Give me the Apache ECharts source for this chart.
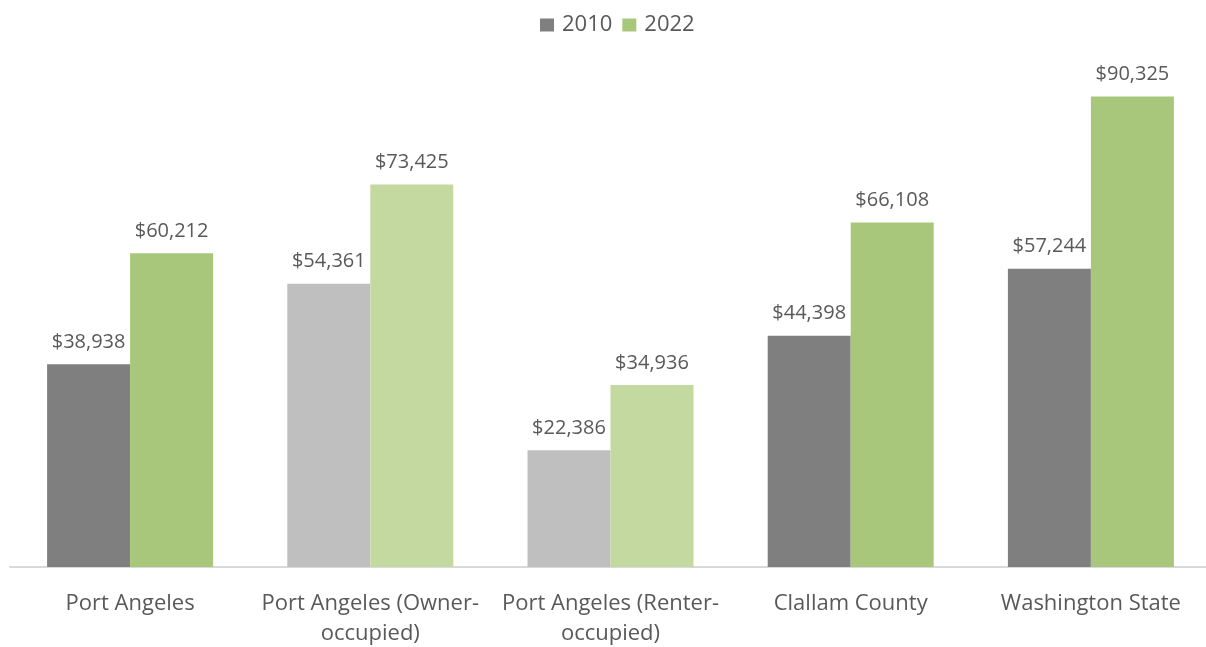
<!DOCTYPE html>
<html>
<head>
<meta charset="utf-8">
<script src="https://cdn.jsdelivr.net/npm/echarts@6/dist/echarts.min.js"></script>
<style>
  html, body { margin: 0; padding: 0; background: #fff; }
  #chart { width: 1206px; height: 647px; }
</style>
</head>
<body>
<div id="chart"></div>
<script>
const categories = [
  "Port Angeles",
  "Port Angeles (Owner-\noccupied)",
  "Port Angeles (Renter-\noccupied)",
  "Clallam County",
  "Washington State"
];
const values2010 = [38938, 54361, 22386, 44398, 57244];
const values2022 = [60212, 73425, 34936, 66108, 90325];
// owner/renter bars are drawn in lighter shades
const lighter = [false, true, true, false, false];

const font = "'Open Sans', 'Noto Sans', sans-serif";
const textColor = "#595959";

let chart = echarts.init(document.getElementById("chart"));

const money = (v) => "$" + v.toLocaleString("en-US");

chart.setOption({
  animation: false,
  legend: {
    top: 9,
    left: 535,
    itemWidth: 14,
    itemHeight: 13,
    itemGap: 10,
    icon: "rect",
    textStyle: { fontFamily: font, fontSize: 22, color: textColor, padding: [0, 0, 0, 3] },
    data: ["2010", "2022"]
  },
  grid: { left: 10, width: 1201, top: 46, bottom: 80, outerBoundsMode: "none" },
  xAxis: {
    type: "category",
    data: categories,
    axisLine: { lineStyle: { color: "#d9d9d9", width: 2 } },
    axisTick: { show: false },
    axisLabel: {
      interval: 0,
      margin: 22,
      fontFamily: font,
      fontSize: 22,
      lineHeight: 30,
      color: textColor
    }
  },
  yAxis: {
    type: "value",
    min: 0,
    max: 100000,
    show: false,
    splitLine: { show: false }
  },
  series: [
    {
      name: "2010",
      type: "bar",
      barWidth: 83,
      barGap: 0,
      itemStyle: { color: "#7f7f7f" },
      data: values2010.map((v, i) => ({
        value: v,
        itemStyle: { color: lighter[i] ? "#bfbfbf" : "#7f7f7f" }
      })),
      label: {
        show: true,
        position: "top",
        distance: 12,
        formatter: (p) => money(p.value),
        fontFamily: font,
        fontSize: 20,
        color: textColor
      }
    },
    {
      name: "2022",
      type: "bar",
      barWidth: 83,
      barGap: 0,
      itemStyle: { color: "#a9c77a" },
      data: values2022.map((v, i) => ({
        value: v,
        itemStyle: { color: lighter[i] ? "#c3d9a0" : "#a9c77a" }
      })),
      label: {
        show: true,
        position: "top",
        distance: 12,
        formatter: (p) => money(p.value),
        fontFamily: font,
        fontSize: 20,
        color: textColor
      }
    }
  ]
});
</script>
</body>
</html>
